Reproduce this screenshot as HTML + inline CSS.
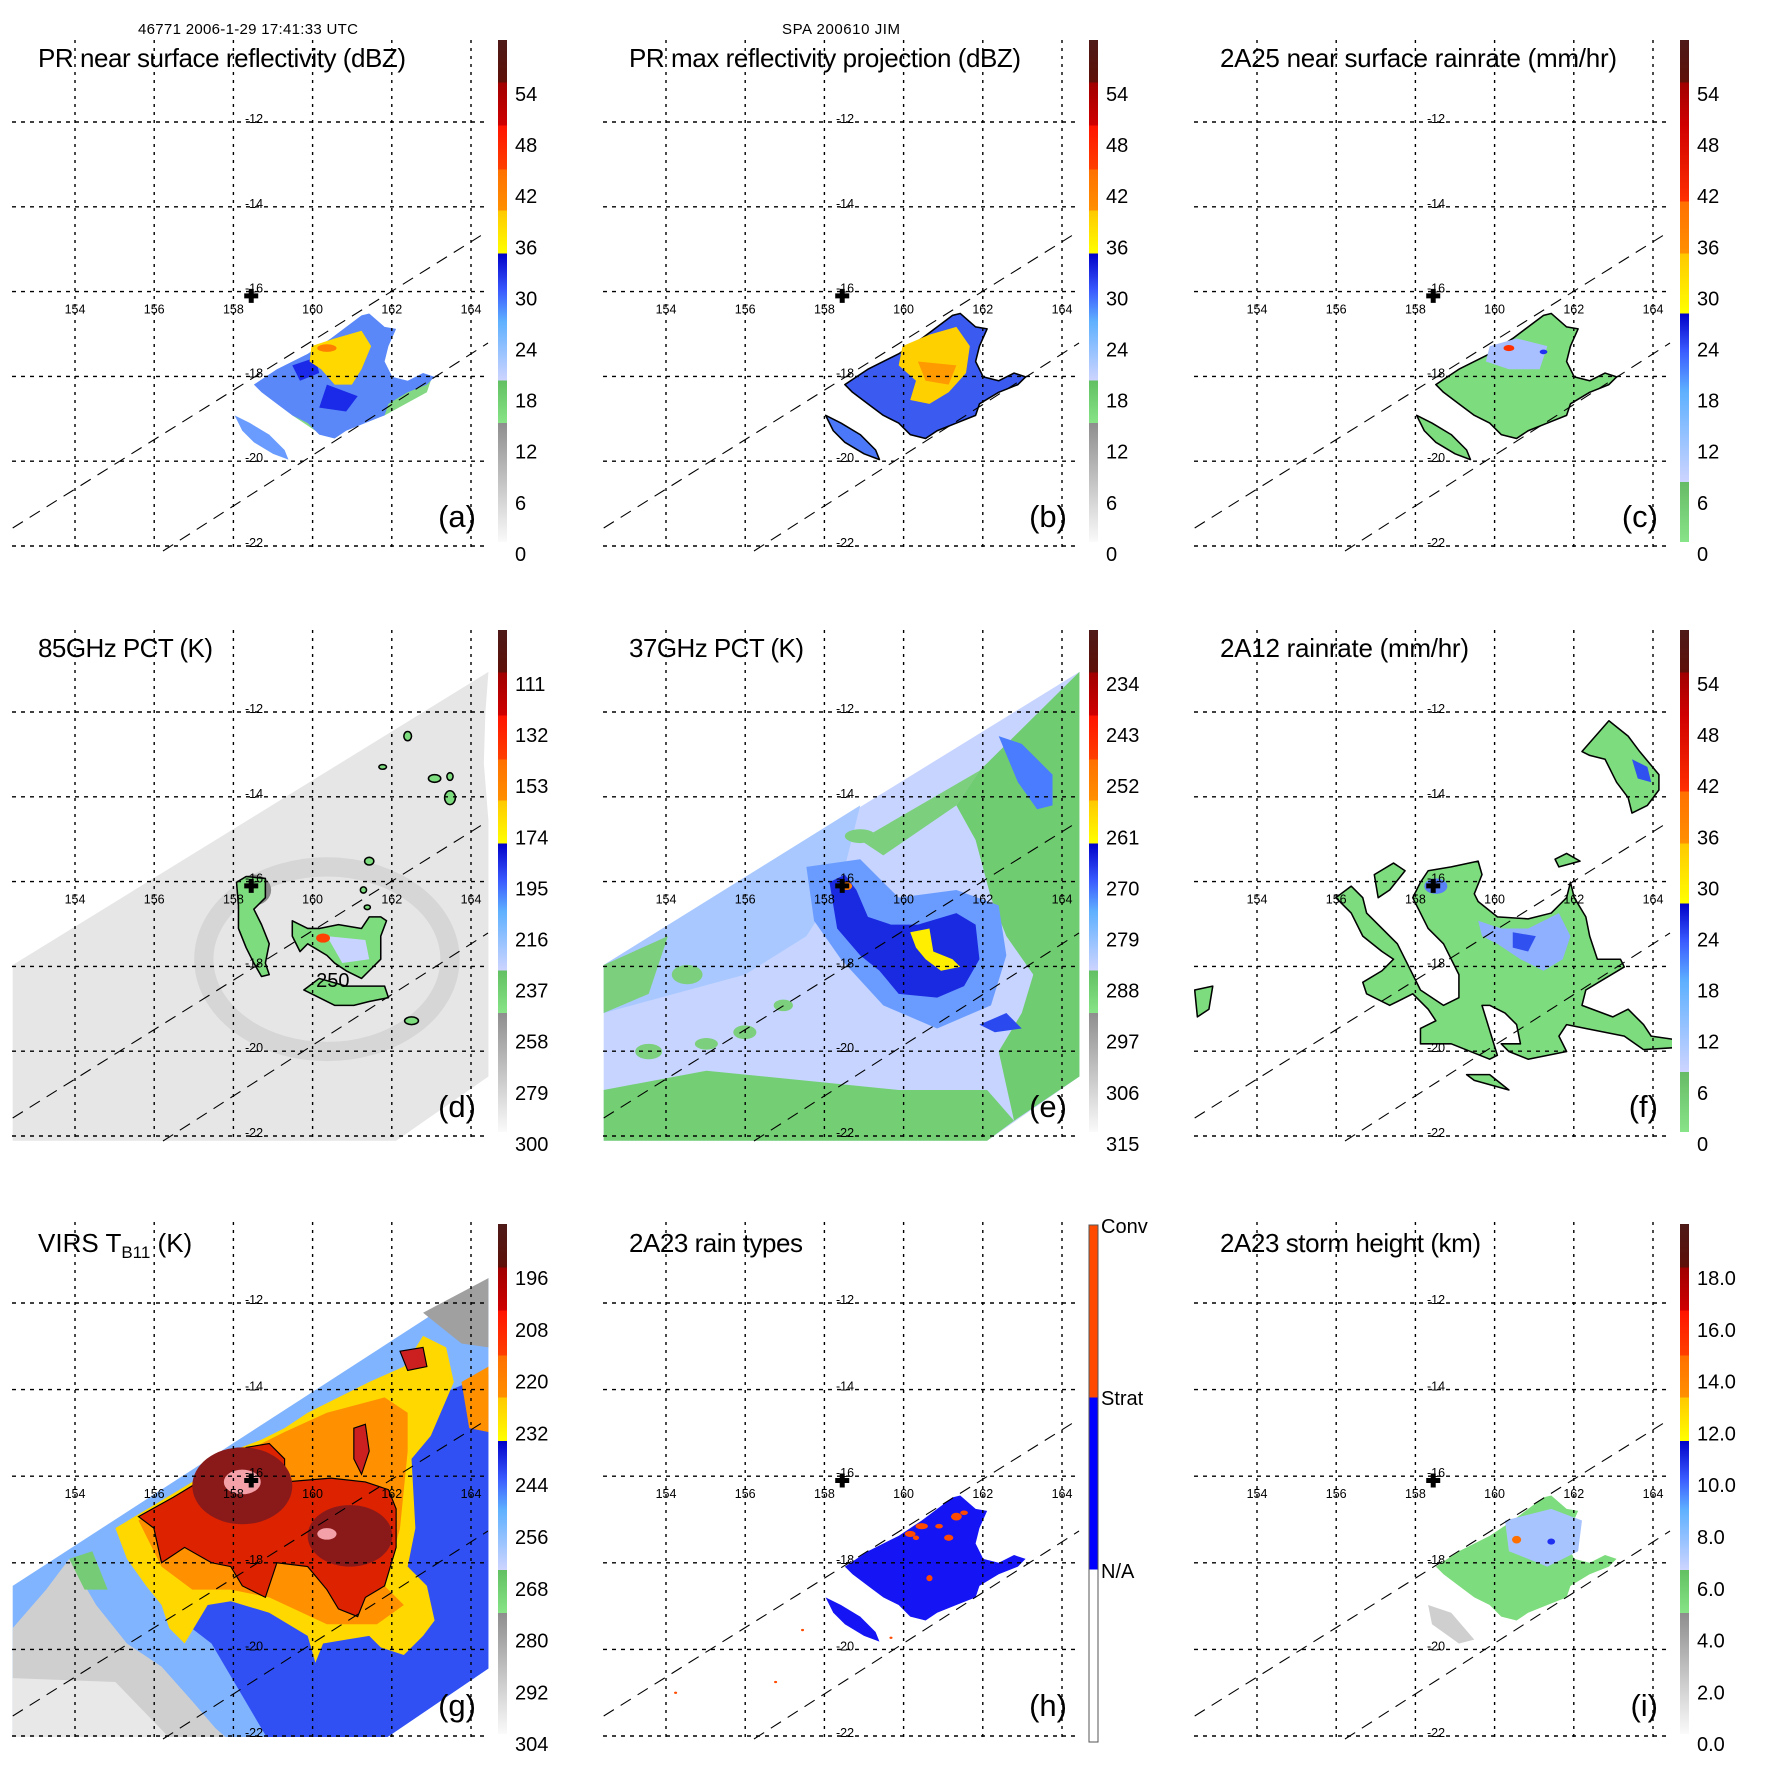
<!DOCTYPE html>
<html><head><meta charset="utf-8"><title>TRMM overpass panels</title>
<style>
html,body{margin:0;padding:0;background:#fff;}
svg{display:block;font-family:"Liberation Sans",Arial,sans-serif;}
</style></head>
<body>
<svg id="fig" xmlns="http://www.w3.org/2000/svg" width="1771" height="1771" viewBox="0 0 1771 1771">
<rect width="1771" height="1771" fill="#fff"/>
<defs>
<linearGradient id="cmapA" x1="0" y1="1" x2="0" y2="0">
<stop offset="0" stop-color="#fafafa"/><stop offset="0.237" stop-color="#8e8e8e"/>
<stop offset="0.237" stop-color="#86e486"/><stop offset="0.322" stop-color="#62bf62"/>
<stop offset="0.322" stop-color="#cdd4ff"/><stop offset="0.44" stop-color="#5eb0ff"/>
<stop offset="0.5" stop-color="#3a5cff"/><stop offset="0.575" stop-color="#0000c8"/>
<stop offset="0.575" stop-color="#ffff00"/><stop offset="0.66" stop-color="#ffc800"/>
<stop offset="0.66" stop-color="#ff9000"/><stop offset="0.742" stop-color="#ff7000"/>
<stop offset="0.742" stop-color="#ff4000"/><stop offset="0.83" stop-color="#ff1400"/>
<stop offset="0.83" stop-color="#d00000"/><stop offset="0.915" stop-color="#a00000"/>
<stop offset="0.915" stop-color="#5e1008"/><stop offset="1" stop-color="#4e1a18"/>
</linearGradient>
<linearGradient id="cmapC" x1="0" y1="1" x2="0" y2="0">
<stop offset="0" stop-color="#88e488"/><stop offset="0.12" stop-color="#66bb66"/>
<stop offset="0.12" stop-color="#cdd4ff"/><stop offset="0.3" stop-color="#5eb0ff"/>
<stop offset="0.38" stop-color="#3a5cff"/><stop offset="0.455" stop-color="#0000c8"/>
<stop offset="0.455" stop-color="#ffff00"/><stop offset="0.575" stop-color="#ffc800"/>
<stop offset="0.575" stop-color="#ff9000"/><stop offset="0.678" stop-color="#ff7000"/>
<stop offset="0.678" stop-color="#ff3000"/><stop offset="0.83" stop-color="#d00000"/>
<stop offset="0.915" stop-color="#a00000"/><stop offset="0.915" stop-color="#5e1008"/>
<stop offset="1" stop-color="#4e1a18"/>
</linearGradient>
<linearGradient id="cmapH" x1="0" y1="1" x2="0" y2="0">
<stop offset="0" stop-color="#ffffff"/><stop offset="0.3333" stop-color="#ffffff"/>
<stop offset="0.3333" stop-color="#0000ff"/><stop offset="0.6667" stop-color="#0000ff"/>
<stop offset="0.6667" stop-color="#ff4a00"/><stop offset="1" stop-color="#ff4a00"/>
</linearGradient>
</defs>
<text x="138" y="34" font-size="15" textLength="220">46771 2006-1-29 17:41:33 UTC</text>
<text x="782" y="34" font-size="15" textLength="118">SPA 200610 JIM</text>
</svg>
<script>
// ----- map / panel data -----
const COLS = [0, 591, 1182];
const ROWS = [0, 590, 1182];
const LONS = [154, 156, 158, 160, 162, 164];
const LATS = [-12, -14, -16, -18, -20, -22];
const ROWGEOM = [
  {lat0:122, per:42.4, cbTop:40, cbBot:542, lab0:94, labStep:51.1},
  {lat0:122, per:42.4, cbTop:40, cbBot:542, lab0:94, labStep:51.1},
  {lat0:121, per:43.3, cbTop:42, cbBot:552, lab0:96, labStep:51.8}
];
const LABELS_A = ['54','48','42','36','30','24','18','12','6','0'];
const LABELS_D = ['111','132','153','174','195','216','237','258','279','300'];
const LABELS_E = ['234','243','252','261','270','279','288','297','306','315'];
const LABELS_G = ['196','208','220','232','244','256','268','280','292','304'];
const LABELS_I = ['18.0','16.0','14.0','12.0','10.0','8.0','6.0','4.0','2.0','0.0'];
const TITLES = ['PR near surface reflectivity (dBZ)','PR max reflectivity projection (dBZ)','2A25 near surface rainrate (mm/hr)',
                '85GHz PCT (K)','37GHz PCT (K)','2A12 rainrate (mm/hr)','VIRS','2A23 rain types','2A23 storm height (km)'];
const TITLE_LEN = [368,392,397,175,175,249,0,174,261];
const LETTERS = ['(a)','(b)','(c)','(d)','(e)','(f)','(g)','(h)','(i)'];
const STORM = {lon:158.45, lat:-16.1};

// shapes in raster units (1 unit = 1/2.6 px)
const MAIN = "660,1000 720,960 800,920 860,880 940,820 960,815 1000,850 1030,855 1010,900 1000,940 1020,980 1060,990 1100,970 1130,980 1110,1000 1060,1020 1010,1050 1000,1080 950,1100 900,1120 870,1140 830,1130 800,1100 760,1080 720,1050 680,1020";
const SWB = "610,1080 650,1100 700,1130 740,1170 750,1195 710,1180 660,1150 630,1120";
const SWATH_D = "33,975 1270,213 1262,320 1258,450 1270,600 1270,1265 1030,1432 33,1432";
const SWATH_G = "33,1050 1270,250 1270,1265 990,1455 33,1455";

const NS = "http://www.w3.org/2000/svg";
const fig = document.getElementById('fig');
function mk(tag, attrs, parent){
  const e = document.createElementNS(NS, tag);
  for (const k in attrs) e.setAttribute(k, attrs[k]);
  parent.appendChild(e);
  return e;
}

function shape(g, pts, fill, name, extra){
  const p = mk('polygon', Object.assign({points:pts, fill:fill}, extra||{}), g);
  
  
  return p;
}
function blob(g, cx, cy, rx, ry, fill, name, extra){
  const e = mk('ellipse', Object.assign({cx:cx, cy:cy, rx:rx, ry:ry, fill:fill}, extra||{}), g);
  
  
  return e;
}

const OUT = {stroke:'#000', 'stroke-width':4, 'stroke-linejoin':'round'};

function drawData(i, g){
  if (i===0){
    shape(g, "700,1000 1000,1000 1120,990 1110,1020 1000,1080 900,1110 820,1120 760,1080", '#84d884', 'rain-light');
    shape(g, MAIN, '#5a88f8', 'rain-field');
    shape(g, SWB, '#6a9cff', 'rain-field-sw');
    shape(g, "850,1000 930,1030 900,1070 830,1060", '#1a2ae8', 'rain-strong');
    shape(g, "760,950 820,930 830,970 780,990", '#1a2ae8', 'rain-strong-w');
    shape(g, "810,900 870,880 940,860 965,900 940,960 915,1000 870,1000 835,960 805,940", '#ffd800', 'rain-core');
    blob(g, 850, 905, 25, 10, '#ff8000', 'rain-peak');
  } else if (i===1){
    shape(g, MAIN, '#3a5af0', 'rain-field', OUT);
    shape(g, SWB, '#4a78f8', 'rain-field-sw', OUT);
    shape(g, "810,900 880,870 950,850 985,900 975,970 930,1020 880,1050 830,1040 845,990 800,950", '#ffd000', 'rain-core');
    shape(g, "850,940 950,950 930,1000 870,990", '#ff9a00', 'rain-peak');
  } else if (i===2){
    shape(g, MAIN, '#7ddc7d', 'rain-field', OUT);
    shape(g, SWB, '#7ddc7d', 'rain-field-sw', OUT);
    shape(g, "800,900 870,880 950,900 930,960 850,960 790,940", '#a8c0ff', 'rain-moderate');
    blob(g, 850, 905, 14, 8, '#ff3000', 'rain-peak');
    blob(g, 940, 915, 10, 6, '#2030f0', 'rain-heavy');
  } else if (i===3){
    shape(g, SWATH_D, '#e6e6e6', 'pct-swath');
    blob(g, 850, 960, 320, 240, 'none', 'scatter-ring', {stroke:'#c4c4c4','stroke-width':50,opacity:0.45});
    blob(g, 660, 780, 45, 40, '#8a8a8a', 'eyewall-scatter');
    shape(g, "615,760 640,745 690,750 690,800 660,830 680,870 700,920 690,970 700,1000 680,1005 660,970 640,930 620,880 620,820", '#7ddc7d', 'ice-arm', OUT);
    shape(g, "760,860 800,880 830,880 880,870 940,880 960,850 990,850 1005,860 990,900 990,960 960,990 940,1010 900,990 870,970 850,950 800,920 780,940 760,900", '#7ddc7d', 'ice-core', OUT);
    shape(g, "850,900 950,910 960,960 890,970", '#c8d4ff', 'ice-strong');
    blob(g, 840, 905, 18, 12, '#ff4000', 'ice-peak');
    shape(g, "790,1040 830,1010 900,1030 960,1030 1000,1030 1010,1060 960,1070 920,1080 870,1080", '#7ddc7d', 'ice-south', OUT);
    [[1060,380,10,12],[995,460,10,6],[1130,490,16,10],[1170,485,8,10],[1170,540,14,18],[960,705,12,10],[945,780,8,8],[955,825,8,6],[1070,1120,18,10]].forEach(b=>blob(g,b[0],b[1],b[2],b[3],'#7ddc7d','ice-cell',{stroke:'#000','stroke-width':4}));
    const t = mk('text', {x:822, y:1032, 'font-size':52}, g);
    
    
    t.textContent = '250';
  } else if (i===4){
    shape(g, SWATH_D, '#c6d4ff', 'pct-swath');
    shape(g, "33,975 700,560 650,760 560,900 400,1000 33,1100", '#a8c8ff', 'pct-nw');
    shape(g, "1010,470 1270,213 1270,1265 1100,1380 1060,1200 1120,1100 1150,1000 1080,900 1040,800 1000,650 950,560", '#70cc70', 'pct-east');
    shape(g, "33,1300 300,1250 600,1280 800,1300 1030,1300 1100,1380 1030,1432 33,1432", '#74cf74', 'pct-south');
    shape(g, "700,650 1010,470 950,560 760,690", '#7ccf7c', 'pct-edge');
    shape(g, "33,975 200,900 150,1050 33,1100", '#7ccf7c', 'pct-west');
    [[250,1000,40,25],[400,1150,30,18],[150,1200,35,20],[500,1080,25,15],[300,1180,30,15],[700,640,40,18]].forEach(b=>blob(g,b[0],b[1],b[2],b[3],'#7ccf7c','pct-speckle'));
    shape(g, "1060,380 1120,400 1200,480 1200,560 1160,570 1110,500", '#4a7cff', 'pct-ne-cell');
    shape(g, "560,720 700,700 800,800 950,780 1060,820 1080,950 1040,1080 900,1140 760,1080 650,960 580,860", '#6a9cff', 'pct-halo');
    shape(g, "620,760 660,740 690,780 720,850 780,870 850,870 950,840 1000,870 1010,960 970,1030 900,1060 800,1050 750,990 700,950 640,880", '#1a2ae0', 'pct-eyewall');
    shape(g, "1010,1130 1080,1100 1120,1140 1050,1150", '#2a4aef', 'pct-south-cell');
    shape(g, "830,890 880,880 890,940 940,960 960,980 910,990 870,960 845,930", '#ffee00', 'pct-core');
    blob(g, 665, 770, 14, 10, '#ff8000', 'pct-peak');
  } else if (i===5){
    shape(g, "620,760 640,730 700,720 770,705 780,740 760,790 770,810 820,850 900,855 960,840 1000,800 1010,760 1020,800 1050,850 1060,900 1080,960 1140,960 1150,980 1100,1010 1050,1040 1040,1080 1120,1110 1160,1090 1200,1130 1220,1160 1290,1170 1280,1190 1200,1195 1150,1160 1050,1140 1000,1130 980,1160 1000,1200 900,1220 850,1200 830,1180 880,1180 870,1130 840,1100 800,1080 780,1080 820,1210 800,1220 700,1180 620,1180 620,1140 660,1120 640,1090 600,1050 540,1080 480,1050 470,1020 520,990 550,960 520,940 470,900 440,840 400,800 440,770 470,800 480,840 520,880 560,920 580,960 620,1040 680,1080 720,1060 720,1000 680,920 640,880 620,840 600,800", '#7ddc7d', 'rain-shield', OUT);
    shape(g, "500,740 550,710 580,730 540,780 510,800", '#7ddc7d', 'rain-band-n', OUT);
    shape(g, "1040,420 1110,340 1160,380 1190,420 1240,480 1240,520 1210,560 1170,580 1160,540 1130,500 1100,440 1060,430", '#7ddc7d', 'rain-ne', OUT);
    shape(g, "33,1040 80,1030 70,1090 40,1110", '#7ddc7d', 'rain-w', OUT);
    shape(g, "740,1260 800,1260 850,1300 760,1275", '#7ddc7d', 'rain-s', OUT);
    shape(g, "970,700 1000,685 1035,705 980,720", '#7ddc7d', 'rain-cell', OUT);
    shape(g, "770,860 830,880 900,880 980,840 1010,900 990,960 940,990 880,960 820,920 780,900", '#8fb0ff', 'rain-moderate');
    shape(g, "860,890 920,900 900,940 860,930", '#3050f0', 'rain-heavy');
    shape(g, "1170,440 1210,460 1220,500 1185,490", '#3050f0', 'rain-ne-heavy');
    blob(g, 660, 770, 30, 20, '#5a80f8', 'rain-eye');
  } else if (i===6){
    shape(g, SWATH_G, '#80b4ff', 'ir-swath');
    shape(g, "33,1160 120,1060 180,980 250,1100 330,1200 420,1260 500,1350 560,1420 600,1455 33,1455", '#cfcfcf', 'ir-clear-sw');
    shape(g, "33,1290 300,1300 450,1455 33,1455", '#e8e8e8', 'ir-clear-warm');
    shape(g, "180,980 240,960 280,1060 220,1060", '#76cc76', 'ir-green');
    shape(g, "300,900 1270,500 1270,1265 990,1455 700,1455 550,1200 420,1100", '#3050f4', 'ir-band');
    shape(g, "1100,340 1270,250 1270,430 1200,420", '#a0a0a0', 'ir-ne-gray');
    shape(g, "300,900 400,840 500,780 600,700 680,670 740,640 800,600 880,560 960,520 1050,480 1100,400 1160,430 1180,520 1120,660 1070,720 1080,900 1060,1000 1110,1050 1130,1140 1100,1180 1050,1230 990,1210 960,1180 900,1190 840,1200 820,1250 800,1180 700,1120 600,1090 540,1100 480,1200 440,1160 420,1100 380,1050 330,980", '#ffd800', 'ir-anvil');
    shape(g, "1200,520 1270,480 1270,650 1220,640", '#ff9000', 'ir-ne-anvil');
    shape(g, "360,880 600,720 740,650 850,600 1000,560 1060,600 1060,700 1040,900 1000,1050 1050,1100 980,1150 850,1150 700,1080 600,1060 500,1060 420,1000", '#ff9000', 'ir-cold');
    shape(g, "360,870 450,820 550,760 640,690 700,680 740,720 740,780 860,770 950,780 1010,800 1030,850 1030,950 1000,1050 950,1080 930,1130 880,1110 850,1060 800,1000 720,990 690,1080 630,1050 600,1000 550,990 480,950 420,990 400,900", '#dd2200', 'ir-very-cold', {stroke:'#000','stroke-width':3});
    shape(g, "1040,440 1100,430 1110,480 1060,490", '#cc2020', 'ir-ne-cell', {stroke:'#000','stroke-width':3});
    shape(g, "920,640 950,630 960,700 940,760 920,720", '#cc2020', 'ir-n-cell', {stroke:'#000','stroke-width':3});
    blob(g, 630, 790, 130, 100, '#8a1a1a', 'ir-cdo-core');
    blob(g, 910, 920, 110, 80, '#8a1a1a', 'ir-east-core');
    blob(g, 630, 780, 48, 32, '#f4a0a8', 'ir-eye');
    blob(g, 850, 915, 25, 15, '#f4a0a8', 'ir-coldest');
  } else if (i===7){
    shape(g, MAIN, '#1414f4', 'stratiform');
    shape(g, SWB, '#1414f4', 'stratiform-sw');
    [[830,915,14,8],[860,895,16,8],[905,895,10,6],[930,925,12,8],[950,870,14,10],[970,860,10,6],[880,1030,8,8],[845,925,8,6]].forEach(b=>blob(g,b[0],b[1],b[2],b[3],'#ff4a00','convective'));
    [[220,1328,4,3],[480,1300,4,3],[550,1165,4,3],[780,1185,4,3],[265,1450,8,6],[150,1450,6,5]].forEach(b=>blob(g,b[0],b[1],b[2],b[3],'#ff4a00','convective-isolated'));
  } else if (i===8){
    shape(g, MAIN, '#7ddc7d', 'echo-tops');
    shape(g, "640,1100 700,1120 760,1190 720,1200 650,1150", '#cfcfcf', 'echo-tops-low');
    shape(g, "840,880 960,850 1040,880 1030,960 950,1000 850,960", '#a8c4ff', 'echo-tops-high');
    blob(g, 870, 930, 12, 10, '#ff7000', 'echo-top-peak');
    blob(g, 960, 935, 10, 8, '#2030f0', 'echo-top-tall');
  }
}

for (let i=0;i<9;i++){
  const col=i%3, row=Math.floor(i/3);
  const G=ROWGEOM[row];
  const gx=COLS[col], gy=ROWS[row];
  const x = lon => 75 + (lon-154)*39.6;
  const y = lat => G.lat0 + (-12-lat)*G.per;
  const p = mk('g', {transform:`translate(${gx},${gy})`}, fig);
  
  

  const clip = mk('clipPath', {id:'clip'+i}, p);
  mk('rect', {x:12, y:38, width:478, height:517}, clip);
  const dg = mk('g', {'clip-path':`url(#clip${i})`}, p);
  const d = mk('g', {transform:'scale(0.3846)'}, dg);
  
  
  drawData(i, d);

  LONS.forEach(L=>{
    const l = mk('line', {x1:x(L), x2:x(L), y1:40, y2:y(-22)+6, stroke:'#000','stroke-width':1.4,'stroke-dasharray':'3,5'}, p);
    
    
    const t = mk('text', {x:x(L), y:y(-16)+22, 'font-size':12.5, 'text-anchor':'middle'}, p);
    
    
    t.textContent = String(L);
  });
  LATS.forEach(A=>{
    const l = mk('line', {x1:12, x2:489, y1:y(A), y2:y(A), stroke:'#000','stroke-width':1.4,'stroke-dasharray':'4,5'}, p);
    
    
    const t = mk('text', {x:245, y:y(A)+1, 'font-size':12.5}, p);
    
    
    t.textContent = String(A);
  });
  const dy = row===2 ? 6 : 0;
  const s1 = mk('line', {x1:12.7, y1:528+dy, x2:485, y2:233+dy, stroke:'#000','stroke-width':1.1,'stroke-dasharray':'12,8'}, p);
  
  
  const s2 = mk('line', {x1:163, y1:551+dy, x2:488, y2:343+dy, stroke:'#000','stroke-width':1.1,'stroke-dasharray':'12,8'}, p);
  
  
  const cx=x(STORM.lon), cy=y(STORM.lat);
  const cr = mk('path', {d:`M${cx-7},${cy-2.5}h14v5h-14z M${cx-2.5},${cy-7}h5v14h-5z`, fill:'#000'}, p);
  
  

  const tt = mk('text', {x:38, y:67+(row===2?3:0), 'font-size':26}, p);
  
  
  if (i===6){
    tt.textContent = 'VIRS T';
    const sub = mk('tspan', {'font-size':17, dy:6}, tt); sub.textContent='B11';
    const rest = mk('tspan', {dy:-6}, tt); rest.textContent=' (K)';
  } else {
    tt.setAttribute('textLength', TITLE_LEN[i]);
    tt.textContent = TITLES[i];
  }
  const lt = mk('text', {x:476, y:527+(row===2?7:0), 'font-size':31, 'text-anchor':'end'}, p);
  
  
  lt.textContent = LETTERS[i];

  const grad = (i===2||i===5) ? 'cmapC' : (i===7 ? 'cmapH' : 'cmapA');
  const cbBot = i===7 ? 560 : G.cbBot;
  const cbTop = i===7 ? 43 : G.cbTop;
  const cb = mk('rect', {x:498, y:cbTop, width:9, height:cbBot-cbTop, fill:`url(#${grad})`, stroke: i===7?'#555':'none','stroke-width':1}, p);
  
  
  if (i===7){
    [['Conv',cbTop],['Strat',215],['N/A',388]].forEach(e=>{
      const t = mk('text', {x:510, y:e[1]+8, 'font-size':20}, p);
      
      
      t.textContent = e[0];
    });
  } else {
    const labs = [LABELS_A,LABELS_A,LABELS_A,LABELS_D,LABELS_E,LABELS_A,LABELS_G,null,LABELS_I][i];
    labs.forEach((s,k)=>{
      const t = mk('text', {x:515, y:G.lab0 + k*G.labStep + 7, 'font-size':20}, p);
      
      
      t.textContent = s;
    });
  }
}
</script>
</body></html>
